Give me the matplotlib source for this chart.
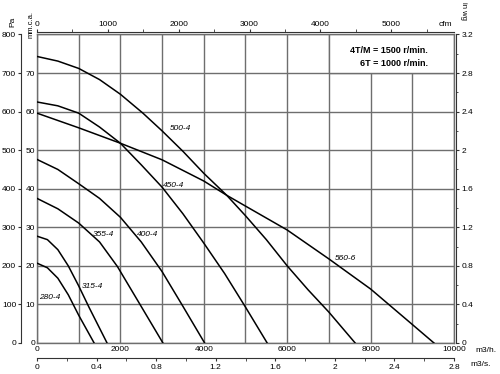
import matplotlib
matplotlib.use("Agg")
import matplotlib.pyplot as plt
from matplotlib.patches import Rectangle
from matplotlib.ticker import FuncFormatter, MultipleLocator
import numpy as np

plt.rcParams['font.family'] = ['Liberation Sans', 'DejaVu Sans']

# fan curves: airflow (m3/h) vs static pressure (Pa)
q_280 = [0, 250, 500, 750, 1000, 1370]
p_280 = [207, 195, 168, 125, 72, 0]
q_315 = [0, 250, 500, 750, 1000, 1250, 1680]
p_315 = [277, 268, 242, 200, 148, 92, 0]
q_355 = [0, 500, 1000, 1500, 1930, 2470, 3020]
p_355 = [375, 348, 311, 262, 198, 100, 0]
q_400 = [0, 500, 1000, 1500, 2000, 2500, 3000, 3500, 4020]
p_400 = [476, 450, 413, 375, 326, 262, 185, 95, 0]
q_450 = [0, 500, 1000, 1500, 2000, 2500, 3000, 3500, 4000, 4500, 5000, 5520]
p_450 = [625, 615, 596, 560, 518, 462, 404, 335, 259, 180, 93, 0]
q_500 = [0, 500, 1000, 1500, 2000, 2540, 3000, 3500, 4000, 4550, 5000, 5500, 6000, 6500, 7000, 7630]
p_500 = [743, 731, 712, 683, 645, 596, 550, 497, 440, 383, 330, 268, 200, 138, 80, 0]
q_560 = [0, 1000, 2000, 3000, 4000, 4550, 5000, 6000, 7000, 8000, 9000, 9520]
p_560 = [596, 558, 518, 475, 420, 383, 355, 293, 218, 140, 48, 0]

curves = [
    (q_280, p_280, "280-4", 50, 117),
    (q_315, p_315, "315-4", 1070, 146),
    (q_355, p_355, "355-4", 1340, 282),
    (q_400, p_400, "400-4", 2400, 282),
    (q_450, p_450, "450-4", 3020, 409),
    (q_500, p_500, "500-4", 3190, 557),
    (q_560, p_560, "560-6", 7150, 220),
]

mm_labels = ["0", "10", "20", "30", "40", "50", "60", "70", ""]

grid_c = "#6e6e6e"
spine_c = "#333333"
fs = 6

fig = plt.figure(figsize=(5, 3.74), dpi=100)
ax = fig.add_axes([0.074, 0.0829, 0.834, 0.8249])
ax.set_xlim(0, 10000)
ax.set_ylim(0, 800)

ax.xaxis.set_major_locator(MultipleLocator(2000))
ax.xaxis.set_minor_locator(MultipleLocator(1000))
ax.set_yticks(np.arange(0, 801, 100))
ax.set_yticklabels(mm_labels)
ax.grid(which="both", color=grid_c, lw=1.0)
ax.set_axisbelow(True)
ax.tick_params(axis="x", which="both", length=0, pad=2.5, labelsize=fs)
ax.tick_params(axis="y", length=0, pad=1.5, labelsize=fs)
for s in ax.spines.values():
    s.set_color(grid_c)
    s.set_linewidth(1.0)

for q, p, name, lx, ly in curves:
    ax.plot(q, p, color="black", lw=1.1, zorder=3)
    ax.text(lx, ly, name, style="italic", fontsize=fs, va="center", zorder=4)

# speed legend box
ax.add_patch(Rectangle((7000, 700), 3000, 100, facecolor="white",
                       edgecolor=grid_c, lw=1.0, zorder=2))
ax.text(9370, 759, "4T/M = 1500 r/min.", ha="right", va="center",
        fontsize=6.5, fontweight="bold", zorder=4)
ax.text(9370, 725, "6T = 1000 r/min.", ha="right", va="center",
        fontsize=6.5, fontweight="bold", zorder=4)

# Pa axis, left of the mm c.a. labels
pa = ax.secondary_yaxis(-16 / 417)
pa.set_yticks(np.arange(0, 801, 100))
pa.tick_params(length=2.5, pad=1, labelsize=fs, color=spine_c)
pa.spines["left"].set_color(spine_c)
pa.spines["left"].set_linewidth(0.8)

# in wg axis on the right
wg = ax.secondary_yaxis(1.005, functions=(lambda p: p / 250, lambda w: w * 250))
wg.yaxis.set_major_locator(MultipleLocator(0.4))
wg.yaxis.set_minor_locator(MultipleLocator(0.2))
wg.yaxis.set_major_formatter(FuncFormatter(lambda v, _: "%g" % round(v, 1)))
wg.tick_params(which="major", length=2.5, pad=1.5, labelsize=fs, color=spine_c)
wg.tick_params(which="minor", length=1.5, color=spine_c)
wg.spines["right"].set_color(spine_c)
wg.spines["right"].set_linewidth(0.8)

# cfm axis on top
cfm = ax.secondary_xaxis(1 + 2.2 / 308.5, functions=(lambda x: x / 1.699, lambda c: c * 1.699))
cfm.xaxis.set_major_locator(MultipleLocator(1000))
cfm.xaxis.set_minor_locator(MultipleLocator(500))
cfm.tick_params(which="major", length=2, pad=1, labelsize=fs, color=spine_c)
cfm.tick_params(which="minor", length=2, color=spine_c)
cfm.spines["top"].set_color(spine_c)
cfm.spines["top"].set_linewidth(0.8)

# m3/s axis below
m3s = ax.secondary_xaxis(-15 / 308.5, functions=(lambda x: x * 2.8 / 10000, lambda s: s * 10000 / 2.8))
m3s.xaxis.set_major_locator(MultipleLocator(0.4))
m3s.xaxis.set_minor_locator(MultipleLocator(0.2))
m3s.xaxis.set_major_formatter(FuncFormatter(lambda v, _: "%g" % round(v, 1)))
m3s.tick_params(which="major", length=2, pad=2, labelsize=fs, color=spine_c)
m3s.tick_params(which="minor", length=2, color=spine_c)
m3s.spines["bottom"].set_color(spine_c)
m3s.spines["bottom"].set_linewidth(0.8)

# the secondary axes carry empty axis labels; keep them out of the way
for sec in (pa, wg, cfm, m3s):
    sec.xaxis.label.set_visible(False)
    sec.yaxis.label.set_visible(False)
    sec.xaxis.offsetText.set_visible(False)
    sec.yaxis.offsetText.set_visible(False)

# unit labels
fig.text(13 / 500, 1 - 22 / 374, "Pa", rotation=90, ha="center", va="center", fontsize=fs)
fig.text(31 / 500, 1 - 25 / 374, "mm.c.a.", rotation=90, ha="center", va="center", fontsize=5.5)
fig.text(464 / 500, 1 - 11.5 / 374, "in wg", rotation=270, ha="center", va="center", fontsize=5.5)
fig.text(445 / 500, 1 - 25 / 374, "cfm", ha="center", va="center", fontsize=fs)
fig.text(475 / 500, 1 - 351 / 374, "m3/h.", ha="left", va="center", fontsize=fs)
fig.text(470 / 500, 1 - 365 / 374, "m3/s.", ha="left", va="center", fontsize=fs)

fig.savefig("out.png", dpi=100)
